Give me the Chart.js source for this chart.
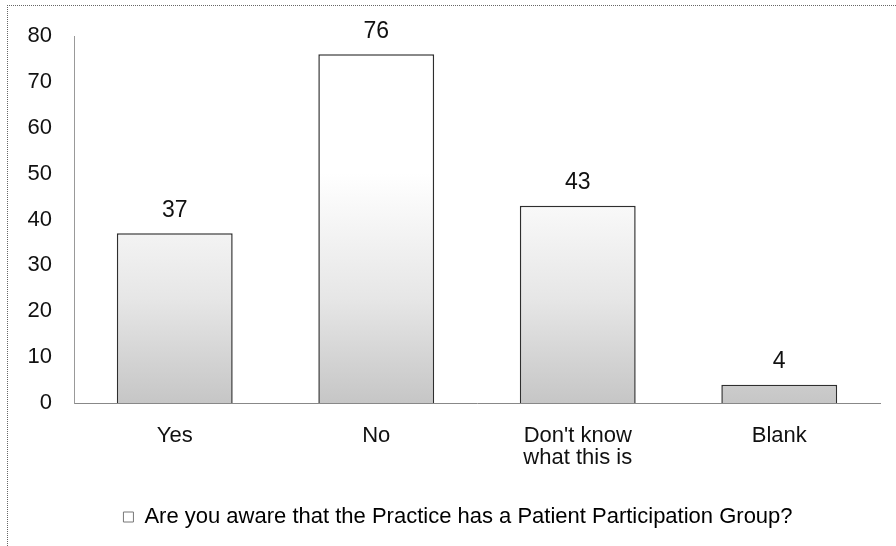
<!DOCTYPE html>
<html>
<head>
<meta charset="utf-8">
<script src="https://cdn.jsdelivr.net/npm/chart.js@4/dist/chart.umd.min.js"></script>
<style>
  html, body { margin: 0; padding: 0; background: #fff; overflow: hidden; }
  #wrap { position: relative; width: 896px; height: 546px; }
  #frame { position: absolute; left: 7px; top: 5px; width: 1000px; height: 1000px;
           border-left: 1px dotted #666; border-top: 1px dotted #666; pointer-events: none; }
  canvas { position: absolute; left: 0; top: 0; }
</style>
</head>
<body>
<div id="wrap">
  <canvas id="c" width="896" height="546"></canvas>
  <div id="frame"></div>
</div>
<script>
const categories = ['Yes', 'No', ["Don't know", 'what this is'], 'Blank'];
const counts = [37, 76, 43, 4];
const seriesName = 'Are you aware that the Practice has a Patient Participation Group?';
const yTicks = [0, 10, 20, 30, 40, 50, 60, 70, 80];

const FONT = "'Liberation Sans', Arial, sans-serif";

const valueLabels = {
  id: 'valueLabels',
  afterDatasetsDraw(chart) {
    const ctx = chart.ctx;
    const meta = chart.getDatasetMeta(0);
    ctx.save();
    ctx.font = '23px ' + FONT;
    ctx.fillStyle = '#111';
    ctx.textAlign = 'center';
    ctx.textBaseline = 'middle';
    meta.data.forEach((bar, i) => {
      ctx.fillText(String(chart.data.datasets[0].data[i]), bar.x, bar.y - 23);
    });
    ctx.restore();
  }
};

new Chart(document.getElementById('c'), {
  type: 'bar',
  data: {
    labels: categories,
    datasets: [{
      label: seriesName,
      data: counts,
      backgroundColor: (c) => {
        const chart = c.chart;
        if (!chart.chartArea) return '#fff';
        const y = chart.scales.y;
        const g = chart.ctx.createLinearGradient(0, y.getPixelForValue(0), 0, y.getPixelForValue(50));
        g.addColorStop(0, '#c6c6c6');
        g.addColorStop(0.45, '#e6e6e6');
        g.addColorStop(1, '#ffffff');
        return g;
      },
      borderColor: '#2e2e2e',
      borderWidth: 1.5,
      barPercentage: 0.575,
      categoryPercentage: 1.0
    }]
  },
  options: {
    responsive: false,
    animation: false,
    devicePixelRatio: 1,
    layout: { padding: { left: 20, right: 0, top: 36, bottom: 8 } },
    plugins: {
      tooltip: { enabled: false },
      legend: {
        position: 'bottom',
        labels: {
          font: { family: FONT, size: 22 },
          color: '#111',
          boxWidth: 10,
          boxHeight: 10,
          padding: 10,
          generateLabels: (chart) => [{
            text: chart.data.datasets[0].label,
            fillStyle: '#ffffff',
            strokeStyle: '#777',
            lineWidth: 1,
            datasetIndex: 0
          }]
        }
      }
    },
    scales: {
      x: {
        grid: { display: false, drawTicks: false },
        border: { display: true, color: '#888', dash: [2, 1] },
        ticks: { font: { family: FONT, size: 22, lineHeight: 1.0 }, color: '#111', padding: 22, maxRotation: 0 },
        afterFit: (s) => { s.height = 93; }
      },
      y: {
        min: 0, max: 80,
        afterBuildTicks: (s) => { s.ticks = yTicks.map(v => ({ value: v })); },
        grid: { display: false, drawTicks: false },
        border: { display: true, color: '#999', dash: [2, 1] },
        ticks: { font: { family: FONT, size: 22 }, color: '#111', padding: 22 },
        afterFit: (s) => { s.width = 54; }
      },
      y2: {
        position: 'right',
        min: 0, max: 80,
        grid: { display: false, drawTicks: false },
        border: { display: false },
        ticks: { display: false },
        afterFit: (s) => { s.width = 16; }
      }
    }
  },
  plugins: [valueLabels]
});
</script>
</body>
</html>
